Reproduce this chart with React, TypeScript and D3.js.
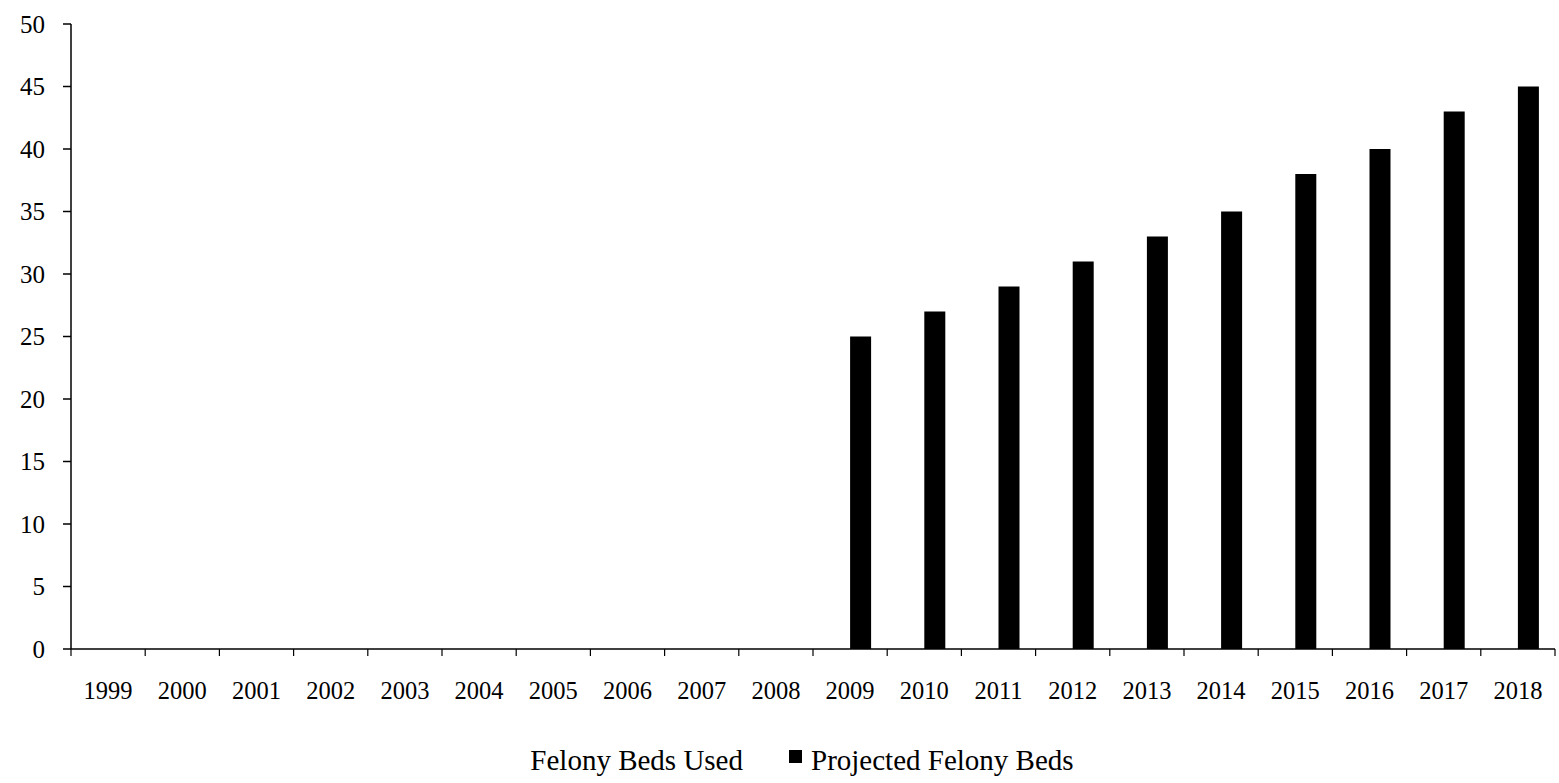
import React from "react";
import * as d3 from "d3";

const years = ["1999","2000","2001","2002","2003","2004","2005","2006","2007","2008","2009","2010","2011","2012","2013","2014","2015","2016","2017","2018"];
const usedBeds = [0,0,0,0,0,0,0,0,0,0,0,0,0,0,0,0,0,0,0,0];
const projectedBeds = [0,0,0,0,0,0,0,0,0,0,25,27,29,31,33,35,38,40,43,45];
const yTicks = [0,5,10,15,20,25,30,35,40,45,50];
const seriesNames = ["Felony Beds Used", "Projected Felony Beds"];
const seriesColors = ["#ffffff", "#000000"];

export default function App() {
  const W = 1559, H = 783;
  const left = 71, right = 1555, top = 24, bottom = 649;
  const x = d3.scaleBand<string>().domain(years).range([left, right]).paddingInner(0).paddingOuter(0);
  const y = d3.scaleLinear().domain([0, 50]).range([bottom, top]);
  const bw = x.bandwidth();
  const barW = 21;
  const inner = d3.scaleBand<number>().domain([0, 1]).range([bw / 2 - barW, bw / 2 + barW]);
  const font = "'Liberation Serif', 'Times New Roman', serif";
  const data = [usedBeds, projectedBeds];
  return (
    <div style={{ position: "absolute", left: 0, top: 0 }}>
      <svg width={W} height={H} style={{ display: "block", background: "#fff" }}>
        {data.map((vals, si) =>
          vals.map((v, i) => (
            <rect key={`${si}-${i}`} x={x(years[i])! + inner(si)!} y={y(v)} width={inner.bandwidth()} height={bottom - y(v)} fill={seriesColors[si]} />
          ))
        )}
        {/* y axis */}
        <line x1={left} x2={left} y1={top} y2={bottom} stroke="#000" strokeWidth={1.5} />
        {yTicks.map((t) => (
          <g key={t}>
            <line x1={left - 8} x2={left} y1={y(t)} y2={y(t)} stroke="#000" strokeWidth={1.5} />
            <text x={45} y={y(t)} textAnchor="end" dominantBaseline="central" fontFamily={font} fontSize={25}>{t}</text>
          </g>
        ))}
        {/* x axis */}
        <line x1={left} x2={right} y1={bottom} y2={bottom} stroke="#000" strokeWidth={1.5} />
        {years.map((yr) => (
          <line key={"t" + yr} x1={x(yr)!} x2={x(yr)!} y1={bottom} y2={bottom + 7} stroke="#000" strokeWidth={1.2} />
        ))}
        <line x1={right} x2={right} y1={bottom} y2={bottom + 7} stroke="#000" strokeWidth={1.2} />
        {years.map((yr) => (
          <text key={"l" + yr} x={x(yr)! + bw / 2} y={690} textAnchor="middle" dominantBaseline="central" fontFamily={font} fontSize={24.5}>{yr}</text>
        ))}
        {/* legend */}
        <text x={743} y={760} textAnchor="end" dominantBaseline="central" fontFamily={font} fontSize={29}>{seriesNames[0]}</text>
        <rect x={789} y={750} width={13} height={13} fill={seriesColors[1]} />
        <text x={811} y={760} dominantBaseline="central" fontFamily={font} fontSize={29}>{seriesNames[1]}</text>
      </svg>
    </div>
  );
}
